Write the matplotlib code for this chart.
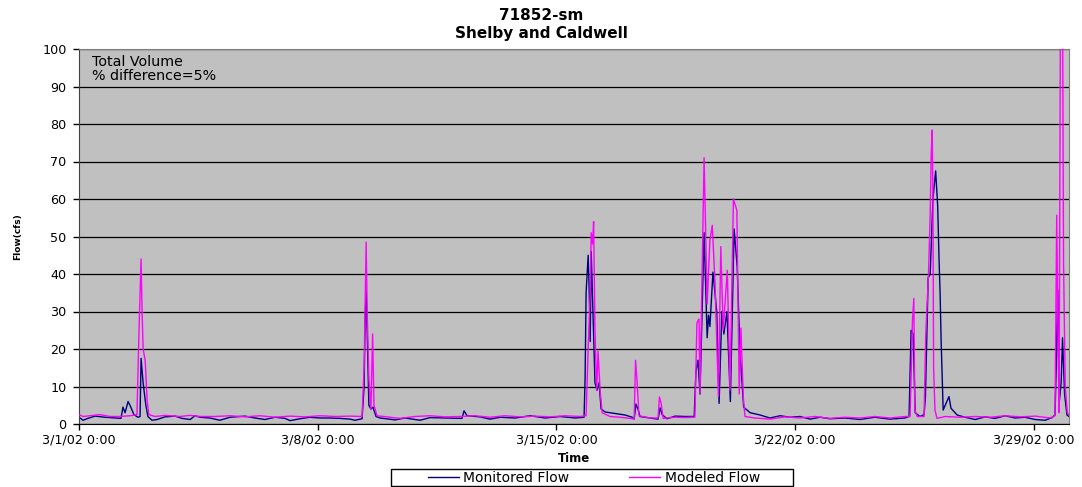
import numpy as np
import pandas as pd
import matplotlib
matplotlib.use("Agg")
import matplotlib.pyplot as plt
import matplotlib.dates as mdates
from matplotlib.patches import Rectangle

plt.rcParams['font.family'] = ['DejaVu Sans']

START = pd.Timestamp('2002-03-01')
W, H = 1082, 487

# days since 3/1/02 0:00 and flow (cfs)
monitored_days = [
    0.00, 0.12, 0.26, 0.47, 0.76, 1.06, 1.23, 1.29, 1.35, 1.44, 1.52, 1.61, 1.73, 1.79,
    1.82, 1.88, 1.96, 2.02, 2.14, 2.29, 2.52, 2.82, 3.02, 3.26, 3.40, 3.55, 3.84, 4.13,
    4.43, 4.87, 5.16, 5.45, 5.75, 6.04, 6.19, 6.48, 6.77, 7.07, 7.36, 7.65, 7.95, 8.09,
    8.30, 8.36, 8.39, 8.42, 8.45, 8.50, 8.56, 8.62, 8.71, 8.83, 9.27, 9.56, 10.00, 10.29,
    10.73, 11.23, 11.29, 11.38, 11.76, 12.05, 12.35, 12.79, 13.23, 13.67, 14.11, 14.55,
    14.81, 14.84, 14.87, 14.93, 14.96, 14.99, 15.02, 15.07, 15.13, 15.19, 15.25, 15.31,
    15.43, 15.72, 16.01, 16.22, 16.28, 16.33, 16.39, 16.45, 16.74, 16.98, 17.04, 17.10,
    17.24, 17.48, 17.77, 18.04, 18.09, 18.15, 18.21, 18.33, 18.42, 18.46, 18.50, 18.59,
    18.70, 18.77, 18.85, 18.91, 19.00, 19.10, 19.21, 19.30, 19.38, 19.49, 19.68, 19.97,
    20.26, 20.56, 20.85, 21.14, 21.44, 21.73, 22.02, 22.46, 22.90, 23.34, 23.78, 24.22,
    24.34, 24.40, 24.46, 24.52, 24.66, 24.78, 24.82, 24.90, 24.96, 25.00, 25.04, 25.12,
    25.18, 25.22, 25.25, 25.28, 25.32, 25.34, 25.40, 25.51, 25.57, 25.75, 25.98, 26.28,
    26.57, 26.86, 27.16, 27.45, 27.74, 28.04, 28.33, 28.53, 28.62, 28.65, 28.70, 28.74,
    28.80, 28.84, 28.90, 28.97, 29.03,
]
monitored_flow = [
    1.8, 1.0, 1.5, 2.1, 1.8, 1.6, 1.5, 4.5, 3.0, 6.0, 4.5, 2.5, 1.8, 2.0,
    17.5, 11.0, 5.0, 2.0, 1.0, 1.2, 1.9, 2.1, 1.5, 1.2, 2.2, 1.8, 1.6, 1.0,
    1.8, 2.1, 1.6, 1.2, 1.8, 1.5, 0.9, 1.4, 1.8, 1.6, 1.6, 1.5, 1.3, 1.0,
    1.4, 10.0, 28.0, 35.5, 25.0, 5.0, 4.0, 4.5, 2.0, 1.6, 1.1, 1.6, 1.0, 1.7,
    1.6, 1.5, 3.5, 2.2, 1.9, 1.3, 1.8, 1.6, 2.2, 1.6, 2.0, 1.6,
    1.8, 12.0, 35.0, 45.0, 36.0, 22.0, 46.0, 30.0, 11.0, 9.0, 11.0, 4.0,
    3.2, 2.8, 2.4, 1.8, 1.3, 5.3, 4.0, 2.0, 1.6, 1.3, 4.3, 2.5,
    1.4, 2.1, 2.0, 2.0, 14.0, 17.0, 8.0, 51.0, 23.0, 29.0, 26.0, 40.5,
    30.0, 5.5, 30.0, 24.0, 30.0, 6.0, 52.0, 42.0, 19.5, 4.5, 3.0, 2.4,
    1.6, 2.2, 1.8, 2.0, 1.3, 1.8, 1.4, 1.6, 1.2, 1.8, 1.3, 1.6,
    2.0, 25.0, 24.0, 3.0, 2.0, 2.5, 7.3, 39.0, 40.0, 50.0, 60.0, 67.5,
    58.0, 43.7, 35.0, 22.4, 9.6, 3.7, 5.0, 7.3, 4.2, 2.4, 1.8, 1.2,
    1.9, 1.5, 2.2, 1.6, 1.8, 1.2, 1.0, 1.7, 2.4, 13.5, 35.7, 5.5,
    11.0, 23.0, 8.0, 2.4, 2.0,
]

modeled_days = [
    0.00, 0.12, 0.32, 0.62, 0.91, 1.20, 1.50, 1.70, 1.76, 1.82, 1.85, 1.88, 1.94, 2.00,
    2.05, 2.23, 2.52, 2.96, 3.26, 3.55, 3.99, 4.43, 4.87, 5.31, 5.75, 6.19, 6.63, 7.07,
    7.51, 7.95, 8.30, 8.36, 8.42, 8.45, 8.50, 8.56, 8.61, 8.65, 8.74, 9.12, 9.41, 9.85,
    10.29, 10.73, 11.17, 11.61, 12.05, 12.49, 12.93, 13.37, 13.81, 14.25, 14.69, 14.87,
    14.93, 14.99, 15.02, 15.06, 15.09, 15.13, 15.18, 15.22, 15.28, 15.34, 15.57, 15.87,
    16.16, 16.28, 16.32, 16.36, 16.42, 16.74, 16.98, 17.02, 17.07, 17.13, 17.48, 17.77,
    18.06, 18.12, 18.18, 18.21, 18.33, 18.42, 18.50, 18.57, 18.65, 18.75, 18.82, 18.89,
    19.01, 19.09, 19.19, 19.29, 19.36, 19.41, 19.48, 19.53, 19.82, 20.26, 20.70, 21.14,
    21.58, 22.02, 22.46, 22.90, 23.34, 23.78, 24.22, 24.37, 24.44, 24.48, 24.51, 24.58,
    24.78, 24.83, 24.91, 24.96, 24.99, 25.02, 25.04, 25.06, 25.10, 25.16, 25.40, 25.84,
    26.28, 26.72, 27.16, 27.60, 28.04, 28.48, 28.62, 28.67, 28.71, 28.74, 28.78, 28.84,
    28.87, 28.92, 28.98, 29.03,
]
modeled_flow = [
    2.5, 2.0, 2.2, 2.5, 2.0, 2.0, 2.2, 2.5, 25.0, 44.0, 30.0, 20.0, 17.0, 6.0,
    2.5, 2.0, 2.3, 2.0, 2.3, 2.0, 2.0, 2.2, 1.9, 2.2, 1.8, 2.1, 1.9, 2.2,
    2.0, 2.1, 2.0, 15.0, 48.5, 30.0, 12.0, 4.0, 24.0, 5.0, 2.2, 1.8, 1.5, 2.0,
    2.2, 1.9, 2.0, 2.2, 1.8, 2.2, 1.9, 2.1, 1.9, 2.2, 2.0, 2.2,
    20.0, 35.0, 51.0, 48.0, 54.0, 25.0, 9.0, 19.5, 9.0, 3.0, 2.0, 1.8,
    1.5, 1.3, 17.0, 12.0, 2.2, 1.6, 1.6, 7.2, 5.5, 1.5, 1.8, 1.7,
    1.8, 27.0, 28.0, 8.0, 71.0, 32.0, 49.0, 53.0, 37.6, 7.3, 47.3, 25.0,
    41.0, 9.0, 60.0, 57.0, 8.0, 25.6, 7.0, 2.0, 1.6, 1.3, 1.9, 1.6,
    2.0, 1.5, 1.8, 1.6, 2.0, 1.6, 2.0, 2.0, 27.7, 33.5, 3.7, 2.0,
    2.0, 24.0, 40.0, 56.0, 72.0, 78.4, 60.0, 15.0, 3.7, 1.5, 2.0, 1.8,
    2.0, 1.8, 2.2, 1.9, 2.1, 1.6, 2.2, 55.7, 20.0, 3.0, 115.0, 115.0,
    43.0, 10.0, 3.0, 2.5,
]

tick_days = [0, 7, 14, 21, 28]


def to_time(days):
    return START + pd.to_timedelta(np.asarray(days), unit='D')


def fmt_date(x, pos=None):
    d = mdates.num2date(x)
    return f'{d.month}/{d.day}/{d.strftime("%y")} {d.hour}:{d.minute:02d}'


fig = plt.figure(figsize=(W / 100, H / 100), dpi=100)
ax = fig.add_axes([79 / W, 1 - 424 / H, 990 / W, 375 / H])
ax.set_facecolor('#C0C0C0')

ax.plot(to_time(monitored_days), monitored_flow, color='#000080', lw=1.0,
        label='Monitored Flow', zorder=2)
ax.plot(to_time(modeled_days), modeled_flow, color='#FF00FF', lw=1.0,
        label='Modeled Flow', zorder=3)

ax.set_ylim(0, 100)
ax.set_yticks(np.arange(0, 101, 10))
ax.yaxis.grid(True, color='black', lw=0.9)
ax.set_axisbelow(True)

ax.set_xlim(to_time([0])[0], to_time([29.03])[0])
ax.set_xticks(to_time(tick_days))
ax.xaxis.set_major_formatter(plt.FuncFormatter(fmt_date))

ax.tick_params(axis='both', labelsize=9.2, length=4, width=1, color='black')
ax.tick_params(axis='x', pad=2.5)
ax.tick_params(axis='y', pad=5)
for side in ['top', 'right']:
    ax.spines[side].set_color('#808080')
ax.spines['left'].set_color('#404040')
ax.spines['bottom'].set_color('black')

ax.set_xlabel('Time', fontsize=8.5, fontweight='bold')
ax.xaxis.set_label_coords(0.5, -(452 - 424) / 375)
ax.set_ylabel('Flow(cfs)', fontsize=6.5, fontweight='bold')
ax.yaxis.set_label_coords(-(79 - 22) / 990, 0.5)

ax.text(13 / 990, 1 - 6 / 375, 'Total Volume\n% difference=5%', transform=ax.transAxes,
        fontsize=10.3, va='top', ha='left', linespacing=1.0)

fig.text(0.5, 1 - 15 / H, '71852-sm', fontsize=11, fontweight='bold',
         ha='center', va='center')
fig.text(0.5, 1 - 33 / H, 'Shelby and Caldwell', fontsize=11, fontweight='bold',
         ha='center', va='center')

# legend box like the spreadsheet one: wide frame, entries inside
fig.legend(loc='center', bbox_to_anchor=(594 / W, 1 - 478 / H), ncol=2,
           fontsize=10, frameon=False, handlelength=2.2, handletextpad=0.35,
           columnspacing=4.3, borderpad=0.1)
fig.patches.append(Rectangle((391 / W, 1 - 486 / H), 402 / W, 17 / H,
                             transform=fig.transFigure, fill=False,
                             edgecolor='black', lw=1))

fig.savefig('out.png', dpi=100)
